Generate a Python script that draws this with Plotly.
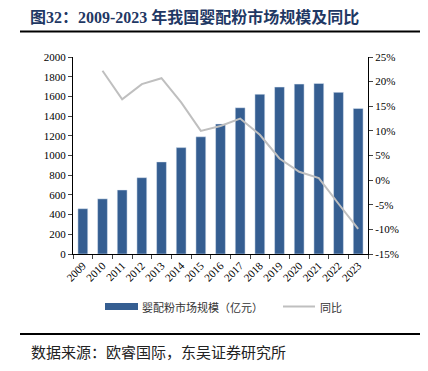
import plotly.graph_objects as go

years = [str(y) for y in range(2009, 2024)]
market_size = [460, 560, 650, 775, 935, 1080, 1190, 1320, 1485, 1622, 1695, 1725, 1732, 1641, 1478]
yoy = [None, 22.2, 16.4, 19.5, 20.7, 15.8, 10.0, 11.0, 12.5, 9.2, 4.4, 1.7, 0.4, -4.8, -9.9]
left_ticks = list(range(0, 2001, 200))
right_ticks = list(range(-15, 26, 5))

BAR = "#355E91"
LINE = "#BFBFBF"
SERIF = "Liberation Serif, Times New Roman, serif"
CJK = "Noto Sans CJK SC, sans-serif"

W, H = 428, 371
L, R, T, B = 73, 368, 57, 254

def px(x):
    return (x - L) / (R - L)

def py(y):
    return (B - y) / (B - T)

fig = go.Figure()
fig.add_trace(go.Bar(x=years, y=market_size, marker_color=BAR, width=0.5,
                     name="婴配粉市场规模（亿元）", showlegend=False))
fig.add_trace(go.Scatter(x=years, y=yoy, mode="lines", line=dict(color=LINE, width=2),
                         name="同比", yaxis="y2", showlegend=False))

fig.update_layout(
    width=W, height=H,
    margin=dict(l=L, r=W - R, t=T, b=H - B),
    plot_bgcolor="white", paper_bgcolor="white",
    bargap=0.5,
    xaxis=dict(type="category", tickangle=-45, tickfont=dict(family=SERIF, size=11, color="black"),
               showline=True, linecolor="black", linewidth=1, ticks="outside", ticklen=4,
               tickson="boundaries", showgrid=False),
    yaxis=dict(range=[0, 2000], tickvals=left_ticks, tickfont=dict(family=SERIF, size=11, color="black"),
               showline=True, linecolor="black", linewidth=1, ticks="outside", ticklen=4,
               showgrid=False, zeroline=False),
    yaxis2=dict(range=[-15, 25], tickvals=right_ticks, ticktext=[f"{v}%" for v in right_ticks],
                overlaying="y", side="right", tickfont=dict(family=SERIF, size=11, color="black"),
                showline=True, linecolor="black", linewidth=1, ticks="outside", ticklen=4,
                showgrid=False, zeroline=False),
)

shapes = [
    dict(type="line", xref="paper", yref="paper", x0=px(20), x1=px(420), y0=py(31.5), y1=py(31.5),
         line=dict(color="black", width=2)),
    dict(type="line", xref="paper", yref="paper", x0=px(20), x1=px(420), y0=py(334), y1=py(334),
         line=dict(color="black", width=2)),
    dict(type="rect", xref="paper", yref="paper", x0=px(105), x1=px(138), y0=py(310), y1=py(303),
         fillcolor=BAR, line=dict(width=0)),
    dict(type="line", xref="paper", yref="paper", x0=px(283), x1=px(315), y0=py(306.5), y1=py(306.5),
         line=dict(color=LINE, width=2)),
]
fig.update_layout(shapes=shapes)

annotations = [
    dict(text="<b>图32：2009-2023 年我国婴配粉市场规模及同比</b>", x=px(28), y=py(17), xref="paper", yref="paper",
         xanchor="left", yanchor="middle", showarrow=False,
         font=dict(family="Liberation Serif, Noto Sans CJK SC", size=16, color="#1F3864")),
    dict(text="婴配粉市场规模（亿元）", x=px(140), y=py(306.5), xref="paper", yref="paper",
         xanchor="left", yanchor="middle", showarrow=False,
         font=dict(family=CJK, size=11, color="#333333")),
    dict(text="同比", x=px(318), y=py(306.5), xref="paper", yref="paper",
         xanchor="left", yanchor="middle", showarrow=False,
         font=dict(family=CJK, size=11, color="#333333")),
    dict(text="数据来源：欧睿国际，东吴证券研究所", x=px(29), y=py(351), xref="paper", yref="paper",
         xanchor="left", yanchor="middle", showarrow=False,
         font=dict(family=CJK, size=15, color="#222222")),
]
fig.update_layout(annotations=annotations)

fig.write_html("out.html", config={"displayModeBar": False},
               post_script="document.body.style.margin='0';document.body.style.overflow='hidden';")
